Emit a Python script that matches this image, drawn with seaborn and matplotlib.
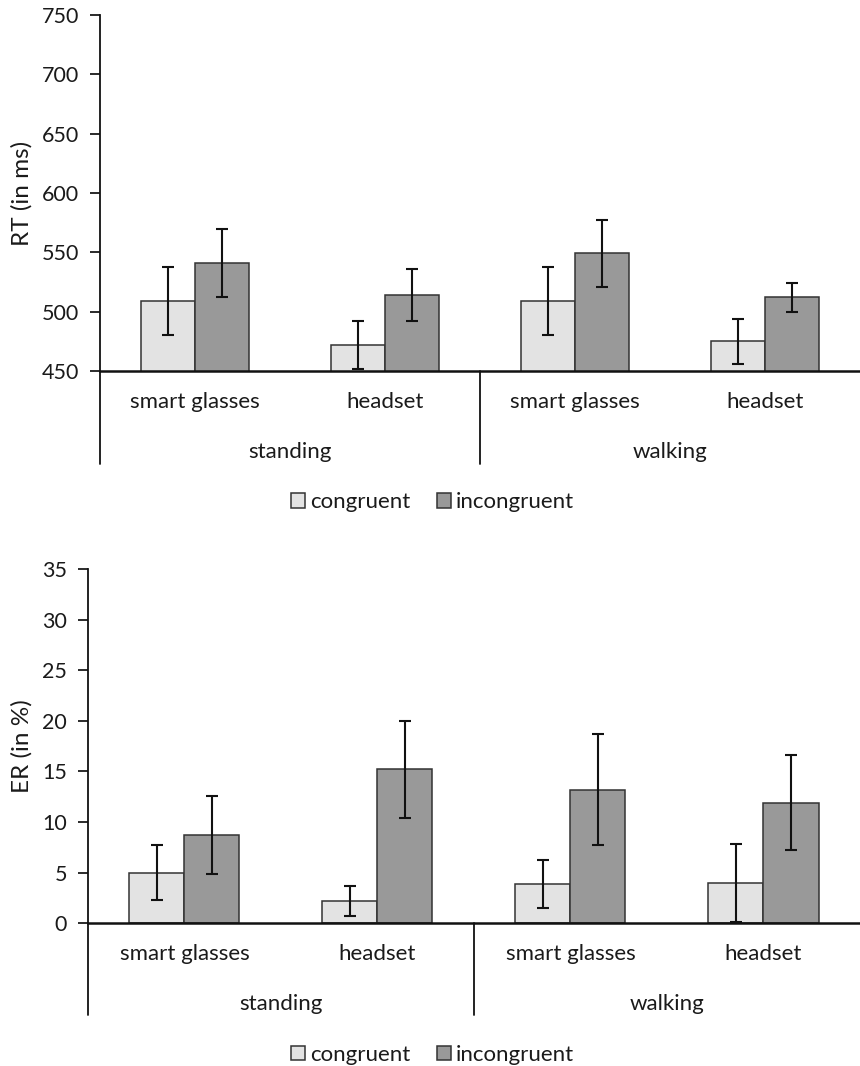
import seaborn as sns
import pandas as pd
import matplotlib
matplotlib.use('Agg')
import matplotlib.pyplot as plt
import matplotlib.transforms as mtransforms
from matplotlib.patches import Patch

# data
cells = ['standing smart glasses', 'standing headset', 'walking smart glasses', 'walking headset']
devices = ['smart glasses', 'headset', 'smart glasses', 'headset']
postures = ['standing', 'walking']
levels = ['congruent', 'incongruent']

rt_cong = [509, 472, 509, 475]
rt_incong = [541, 514, 549, 512]
rt_cong_err = [28.5, 20, 29, 19]
rt_incong_err = [28.5, 22, 28.5, 12]

er_cong = [5.0, 2.2, 3.9, 3.95]
er_incong = [8.75, 15.2, 13.2, 11.9]
er_cong_err = [2.7, 1.45, 2.4, 3.85]
er_incong_err = [3.85, 4.8, 5.5, 4.7]

colors = ['#e3e3e3', '#999999']
edge = '#333333'

sns.set_style('ticks')
plt.rcParams['font.family'] = ['Lato', 'DejaVu Sans']
plt.rcParams['font.size'] = 16
plt.rcParams['text.color'] = '#1a1a1a'
plt.rcParams['axes.labelcolor'] = '#1a1a1a'
plt.rcParams['xtick.color'] = '#1a1a1a'
plt.rcParams['ytick.color'] = '#1a1a1a'


def make_df(cong, incong):
    rows = []
    for i, c in enumerate(cells):
        rows.append({'cell': c, 'cond': 'congruent', 'val': cong[i]})
        rows.append({'cell': c, 'cond': 'incongruent', 'val': incong[i]})
    return pd.DataFrame(rows)


def panel(ax, cong, incong, cong_err, incong_err, ylim, yticks, ylabel, drop):
    df = make_df(cong, incong)
    sns.barplot(data=df, x='cell', y='val', hue='cond', order=cells, hue_order=levels,
                palette=colors, edgecolor=edge, linewidth=1.1, width=0.57,
                errorbar=None, legend=False, ax=ax)
    # error bars on the bar centres
    for cont, errs, vals in zip(ax.containers, [cong_err, incong_err], [cong, incong]):
        xs = [p.get_x() + p.get_width() / 2 for p in cont.patches]
        ax.errorbar(xs, vals, yerr=errs, fmt='none', ecolor='#111111',
                    elinewidth=1.5, capsize=4.3, capthick=1.5, zorder=5)
    ax.set_xlim(-0.5, 3.5)
    ax.set_ylim(*ylim)
    ax.set_yticks(yticks)
    ax.set_ylabel(ylabel, fontsize=17.5, labelpad=7)
    ax.set_xlabel('')
    ax.set_xticks(range(4))
    ax.set_xticklabels(devices, fontsize=16)
    ax.tick_params(axis='x', length=0, pad=15)
    ax.tick_params(axis='y', length=7, width=1.3, labelsize=15.5, pad=8)
    sns.despine(ax=ax)
    ax.spines['left'].set_linewidth(1.3)
    ax.spines['bottom'].set_linewidth(1.8)
    ax.spines['left'].set_color('#111111')
    ax.spines['bottom'].set_color('#111111')

    trans = mtransforms.blended_transform_factory(ax.transData, ax.transAxes)
    for xb in [-0.5, 1.5]:
        ax.plot([xb, xb], [0, -drop], transform=trans, color='#111111',
                lw=1.3, clip_on=False)
    for k, name in enumerate(postures):
        ax.text(0.5 + 2 * k, -0.228, name, transform=trans, ha='center',
                va='center', fontsize=16)


fig = plt.figure(figsize=(8.6, 10.66), dpi=100)
ax1 = fig.add_axes([0.1163, 0.652, 0.8837, 0.334])
ax2 = fig.add_axes([0.1023, 0.1339, 0.8977, 0.3323])

panel(ax1, rt_cong, rt_incong, rt_cong_err, rt_incong_err, (450, 750),
      range(450, 751, 50), 'RT (in ms)', 0.261)
panel(ax2, er_cong, er_incong, er_cong_err, er_incong_err, (0, 35),
      range(0, 36, 5), 'ER (in %)', 0.259)

handles = [Patch(facecolor=colors[i], edgecolor=edge, linewidth=1.1, label=levels[i])
           for i in range(2)]
for yy in [0.529, 0.0105]:
    fig.legend(handles=handles, loc='center', bbox_to_anchor=(0.503, yy), ncol=2,
               frameon=False, fontsize=16, handlelength=0.63, handleheight=0.63,
               handletextpad=0.22, columnspacing=1.2, borderpad=0.1)

fig.savefig('out.png', dpi=100)
